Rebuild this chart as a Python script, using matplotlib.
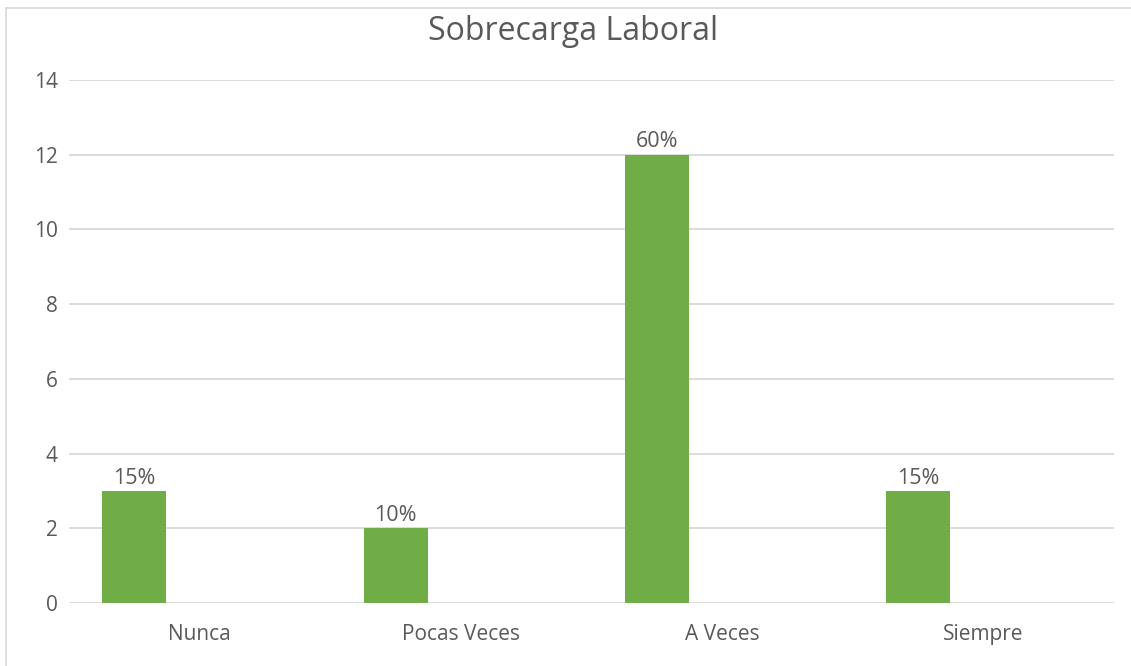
import matplotlib
matplotlib.use("Agg")
import matplotlib.pyplot as plt
from matplotlib.lines import Line2D

categories = ["Nunca", "Pocas Veces", "A Veces", "Siempre"]
counts = [3, 2, 12, 3]
y_ticks = [0, 2, 4, 6, 8, 10, 12, 14]
title = "Sobrecarga Laboral"

total = sum(counts)
pct_labels = [f"{round(c / total * 100)}%" for c in counts]

text_color = "#595959"
grid_color = "#D9D9D9"
bar_color = "#70AD47"

plt.rcParams["font.family"] = ["Open Sans", "DejaVu Sans"]

W, H = 1131, 666
fig = plt.figure(figsize=(W / 100, H / 100), dpi=100)
fig.patch.set_facecolor("white")

# chart frame edges (top and left)
fig.lines.append(Line2D([5.5 / W, 1], [1 - 7.5 / H, 1 - 7.5 / H],
                        transform=fig.transFigure, color=grid_color, lw=1.2))
fig.lines.append(Line2D([5.5 / W, 5.5 / W], [0, 1 - 7.5 / H],
                        transform=fig.transFigure, color=grid_color, lw=1.2))

ax = fig.add_axes([69 / W, 1 - 603 / H, 1045 / W, 523 / H])
x = list(range(len(categories)))
bar_x = [i - 0.25 for i in x]
ax.bar(bar_x, counts, width=0.245, color=bar_color, zorder=3)

for bx, c, lab in zip(bar_x, counts, pct_labels):
    ax.text(bx, c + 0.06, lab, ha="center", va="bottom", fontsize=15.5,
            color=text_color, zorder=4)

ax.set_xlim(-0.5, len(categories) - 0.5)
ax.set_ylim(0, 14)
ax.set_yticks(y_ticks)
ax.set_yticklabels([str(t) for t in y_ticks])
ax.set_xticks(x)
ax.set_xticklabels(categories)
ax.tick_params(axis="both", length=0, colors=text_color, labelsize=15)
ax.tick_params(axis="x", pad=15)
ax.tick_params(axis="y", pad=8)
ax.grid(axis="y", color=grid_color, linewidth=1.3, zorder=0)
ax.set_axisbelow(True)
for s in ax.spines.values():
    s.set_visible(False)

fig.text(573 / W, 1 - 32 / H, title, ha="center", va="center",
         fontsize=23, color=text_color)

fig.savefig("out.png", dpi=100, facecolor="white")
